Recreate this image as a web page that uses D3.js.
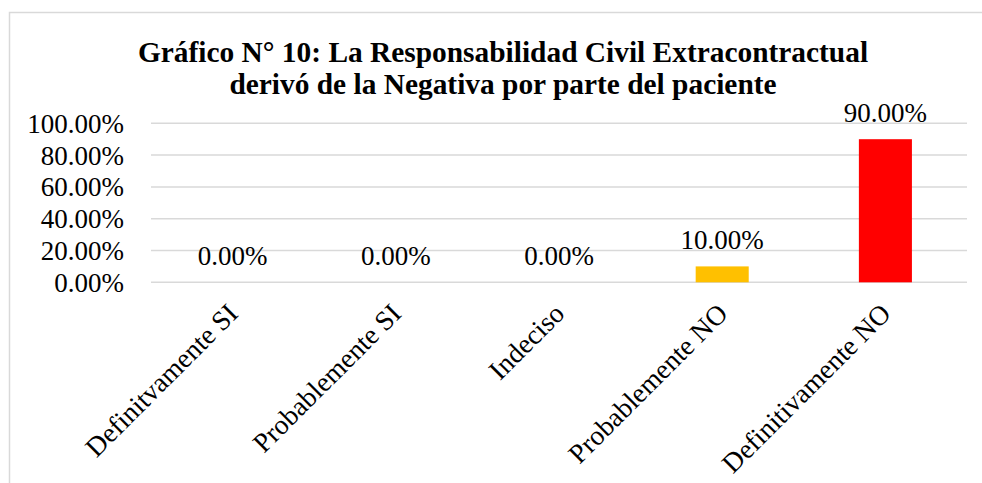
<!DOCTYPE html>
<html><head><meta charset="utf-8">
<script src="https://cdn.jsdelivr.net/npm/d3@7"></script>
<style>body{margin:0;background:#fff}svg{display:block}</style>
</head><body>
<svg id="chart" width="982" height="483"></svg>
<script>
const titleLines = ["Gra\u0301fico N° 10: La Responsabilidad Civil Extracontractual", "derivó de la Negativa por parte del paciente"];
const categories = ["Definitvamente SI", "Probablemente SI", "Indeciso", "Probablemente NO", "Definitivamente NO"];
const values = [0, 0, 0, 0.10, 0.90];
const colors = ["#4472C4", "#4472C4", "#4472C4", "#FFC000", "#FF0000"];
const yTicks = [0, 0.2, 0.4, 0.6, 0.8, 1.0];

const svg = d3.select("#chart");
const serif = "'Liberation Serif','Times New Roman',serif";

// chart border
svg.append("rect").attr("x", 9.5).attr("y", 12.5).attr("width", 1000).attr("height", 500)
  .attr("fill", "none").attr("stroke", "#d9d9d9").attr("stroke-width", 1.5);

const plotL = 151, plotR = 967, plotT = 123.3, plotB = 282.3;
const x = d3.scaleBand().domain(categories).range([plotL, plotR]).paddingInner(0.675).paddingOuter(0.3375);
const y = d3.scaleLinear().domain([0, 1]).range([plotB, plotT]);

// title
const t = svg.append("text").attr("text-anchor", "middle").attr("font-family", serif)
  .attr("font-weight", "bold").attr("font-size", 29.4).attr("fill", "#000");
titleLines.forEach((l, i) => t.append("tspan").attr("x", 503).attr("y", 62 + i * 31.5).text(l));

// gridlines
svg.append("g").selectAll("line").data(yTicks).join("line")
  .attr("x1", plotL).attr("x2", plotR).attr("y1", d => y(d)).attr("y2", d => y(d))
  .attr("stroke", "#d9d9d9").attr("stroke-width", 1.5);

// y axis
const yAxis = svg.append("g").attr("transform", `translate(${plotL},0)`)
  .call(d3.axisLeft(y).tickValues(yTicks).tickFormat(d3.format(".2%")).tickSize(0).tickPadding(27));
yAxis.select(".domain").remove();
yAxis.selectAll("text").attr("font-family", serif).attr("font-size", 27).attr("fill", "#000").attr("dy", "0.33em");

// bars
svg.append("g").selectAll("rect").data(values).join("rect")
  .attr("x", (d, i) => x(categories[i])).attr("width", x.bandwidth())
  .attr("y", d => y(d)).attr("height", d => y(0) - y(d))
  .attr("fill", (d, i) => colors[i]);

// data labels
svg.append("g").selectAll("text").data(values).join("text")
  .attr("x", (d, i) => x(categories[i]) + x.bandwidth() / 2)
  .attr("y", d => y(d) - 17)
  .attr("text-anchor", "middle").attr("font-family", serif).attr("font-size", 27).attr("fill", "#000")
  .text(d => d3.format(".2%")(d));

// category labels
svg.append("g").selectAll("text").data(categories).join("text")
  .attr("transform", d => `translate(${x(d) + x.bandwidth() / 2 + 7},${plotB + 33}) rotate(-45)`)
  .attr("text-anchor", "end").attr("font-family", serif).attr("font-size", 27.5).attr("fill", "#000")
  .text(d => d);
</script>
</body></html>
